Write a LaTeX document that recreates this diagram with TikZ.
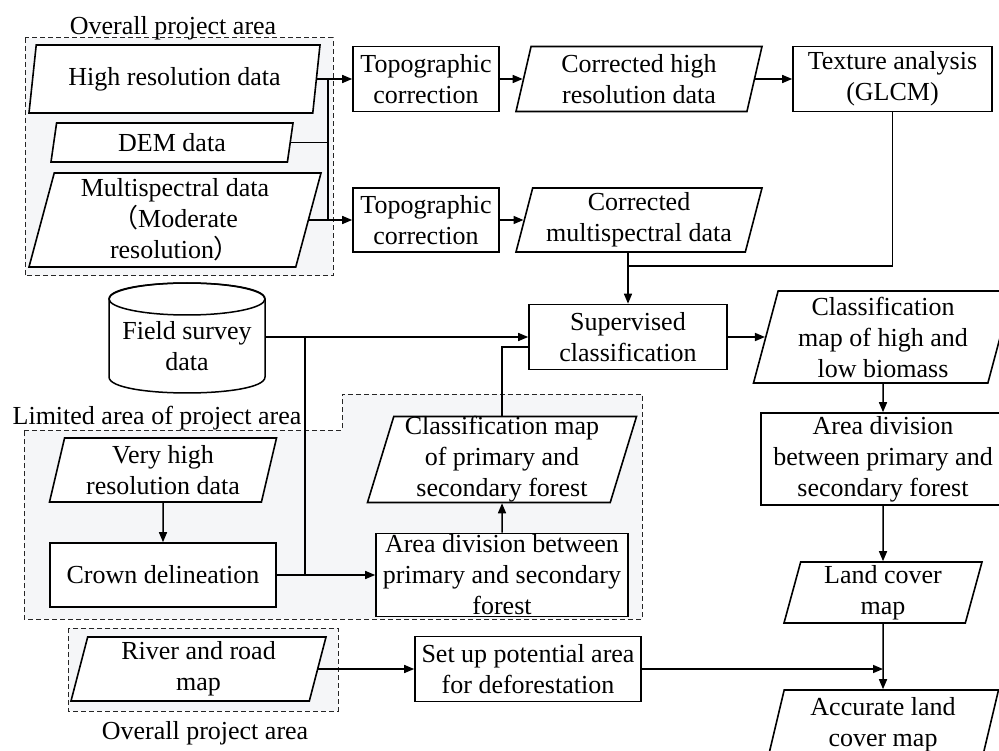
\documentclass[tikz,border=0pt]{standalone}
\usepackage{fontspec}
\setmainfont{Liberation Serif}
\newfontfamily\cjkfont{Noto Sans CJK SC}
\usetikzlibrary{shapes.geometric,arrows.meta,calc}
\definecolor{grpfill}{RGB}{245,246,248}
\begin{document}
\begin{tikzpicture}[x=1pt,y=-1pt,
  font=\fontsize{26}{31}\selectfont,
  procbox/.style={draw, rectangle, line width=1.6pt, fill=white, align=center, inner xsep=3pt, inner ysep=0pt},
  iobox/.style={draw, trapezium, trapezium left angle=73, trapezium right angle=107, trapezium stretches body, line width=1.6pt, fill=white, align=center, inner xsep=2pt, inner ysep=0pt},
  arr/.style={line width=1.5pt, -{Triangle[length=10pt,width=8pt]}},
  conn/.style={line width=1.5pt},
  grp/.style={draw=black!85, line width=1pt, dash pattern=on 5pt off 3pt, fill=grpfill},
  grplabel/.style={anchor=base, inner sep=0pt}
]
\path[use as bounding box] (0,0) rectangle (999,751);

% groups
\draw[grp] (25,38) rectangle (333,276);
\draw[grp] (24,430) -- (342,430) -- (342,394) -- (642,394) -- (642,619) -- (24,619) -- cycle;
\draw[grp] (68,628) rectangle (338,711);
\node[grplabel] (lblA) at (173,35) {Overall project area};
\node[grplabel] (lblB) at (157,424) {Limited area of project area};
\node[grplabel] (lblC) at (205,739) {Overall project area};

% nodes
\node[iobox, minimum width=291pt, minimum height=68pt] (hr) at (174.5,79) {High resolution data};
\node[iobox, minimum width=242pt, minimum height=39pt] (dem) at (172,142.5) {DEM data};
\node[iobox, minimum width=292pt, minimum height=94pt] (ms) at (175,220) {Multispectral data\\{\cjkfont （}Moderate\\resolution{\cjkfont ）}};
\node[procbox, minimum width=146pt, minimum height=65pt] (topo1) at (426,79) {Topographic\\correction};
\node[iobox, minimum width=246pt, minimum height=65pt] (chr) at (639,79) {Corrected high\\resolution data};
\node[procbox, minimum width=199pt, minimum height=65pt] (tex) at (892.5,79) {Texture analysis\\(GLCM)};
\node[procbox, minimum width=146pt, minimum height=64pt] (topo2) at (426,220) {Topographic\\correction};
\node[iobox, minimum width=246pt, minimum height=64pt] (cms) at (639,220) {Corrected\\multispectral data};
\node[procbox, minimum width=198pt, minimum height=65pt] (sup) at (628,337) {Supervised\\classification};
\node[iobox, minimum width=259pt, minimum height=92pt] (chl) at (883,337) {Classification\\map of high and\\low biomass};
\node[procbox, minimum width=244pt, minimum height=92pt] (ad2) at (883,459) {Area division\\between primary and\\secondary forest};
\node[iobox, minimum width=198pt, minimum height=61pt] (lcm) at (883,592.5) {Land cover\\map};
\node[iobox, minimum width=231pt, minimum height=70pt] (alcm) at (883,725) {Accurate land\\cover map};

% field survey cylinder
\draw[conn, fill=white] (109,299) -- (109,377) .. controls (109,398.3) and (265,398.3) .. (265,377) -- (265,299) .. controls (265,277.7) and (109,277.7) .. (109,299) -- cycle;
\draw[conn] (187,299) ellipse [x radius=78, y radius=16];
\node[align=center, inner sep=0pt, minimum width=156pt] (fs) at (187,346) {Field survey\\data};

\node[iobox, minimum width=227pt, minimum height=64pt] (vhr) at (163,470) {Very high\\resolution data};
\node[procbox, minimum width=226pt, minimum height=64pt] (crown) at (163,575) {Crown delineation};
\node[iobox, minimum width=269pt, minimum height=83pt] (cps) at (502,459.5) {Classification map\\of primary and\\secondary forest};
\node[procbox, minimum width=252pt, minimum height=83pt] (ad1) at (502,575) {Area division between\\primary and secondary\\forest};
\node[iobox, minimum width=255pt, minimum height=64pt] (rrm) at (198.5,669) {River and road\\map};
\node[procbox, minimum width=226pt, minimum height=65pt] (setup) at (528,669) {Set up potential area\\for deforestation};

% junction coordinates
\coordinate (busT) at (328,79);
\coordinate (busB) at (328,220);
\coordinate (jtex) at (628,266);
\coordinate (jfs) at (305,337);
\coordinate (jcr) at (305,575);

% connectors
\draw[arr] (hr.right side) -- (topo1.west);
\draw[arr] (ms.right side) -- (topo2.west);
\draw[conn] (dem.right side) -- (dem.right side -| busT);
\draw[conn] (busT) -- (busB);
\draw[arr] (topo1.east) -- (chr.left side);
\draw[arr] (topo2.east) -- (cms.left side);
\draw[arr] (chr.right side) -- (tex.west);
\draw[conn] (tex.south) |- (jtex);
\draw[arr] (sup.north |- cms.south) -- (sup.north);
\draw[arr] (fs.east |- sup.west) -- (sup.west);
\draw[conn] (jfs) -- (jcr);
\draw[arr] (crown.east) -- (ad1.west);
\draw[arr] (ad1.north) -- (cps.south);
\draw[conn] (cps.north) |- ([yshift=-10pt]sup.west);
\draw[arr] (vhr.south) -- (crown.north);
\draw[arr] (sup.east) -- (chl.left side);
\draw[arr] (chl.south) -- (ad2.north);
\draw[arr] (ad2.south) -- (lcm.north);
\draw[arr] (lcm.south) -- (alcm.north);
\draw[arr] (setup.east) -- (setup.east -| lcm.south);
\draw[arr] (rrm.right side) -- (setup.west);
\end{tikzpicture}
\end{document}
